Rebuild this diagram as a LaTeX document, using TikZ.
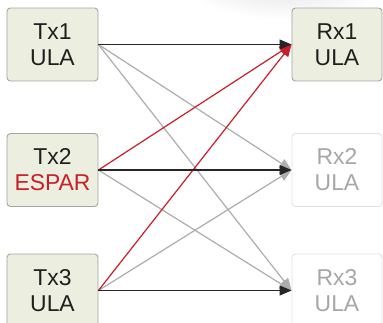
\documentclass[tikz,border=0pt]{standalone}
\usepackage{fontspec}
\setmainfont{Liberation Sans}
\usetikzlibrary{arrows.meta,positioning}
\definecolor{boxfill}{HTML}{ECEEDF}
\definecolor{boxline}{HTML}{A4A4A0}
\definecolor{faintline}{HTML}{E2E2E2}
\definecolor{fainttext}{HTML}{A6A6A6}
\definecolor{linkred}{HTML}{C8202A}
\definecolor{linkgray}{HTML}{ADADAD}
\tikzset{
  antenna/.style={draw=boxline, fill=boxfill, rounded corners=3.5bp, line width=0.9bp,
    minimum width=91bp, minimum height=73bp, inner sep=0pt,
    align=center, font=\fontsize{23}{26}\selectfont, text=black!88},
  idle/.style={antenna, draw=faintline, fill=white, text=fainttext},
  link/.style={line width=1.2bp, -{Triangle[length=12bp,width=10bp]}},
  direct/.style={link, draw=black!85, fill=black!85},
  cross/.style={link, draw=linkgray, fill=linkgray},
  espar/.style={link, draw=linkred, fill=linkred},
}
\begin{document}
\begin{tikzpicture}[x=1bp, y=-1bp]
  \useasboundingbox (0,0) rectangle (383,323);
  \begin{scope}
    \clip (0,0) rectangle (383,323);
    % soft shadow along the top edge
    \shade[inner color=black!14, outer color=white] (285,-28) ellipse [x radius=110, y radius=48];

    \node[antenna] (tx1) at (52.5,44.5) {Tx1\\ULA};
    \node[antenna] (tx2) at (52.5,170) {Tx2\\\textcolor{linkred}{ESPAR}};
    \node[antenna] (tx3) at (52.5,290.5) {Tx3\\ULA};
    \node[antenna, minimum width=90bp] (rx1) at (337,44.5) {Rx1\\ULA};
    \node[idle, minimum width=90bp] (rx2) at (337,170) {Rx2\\ULA};
    \node[idle, minimum width=90bp] (rx3) at (337,290.5) {Rx3\\ULA};

    % cross links
    \draw[cross] (tx1.east) -- (rx2.west);
    \draw[cross] (tx1.east) -- (rx3.west);
    \draw[cross] (tx2.east) -- (rx3.west);
    \draw[cross] (tx3.east) -- (rx2.west);
    % links from the ESPAR side
    \draw[espar] (tx2.east) -- (rx1.west);
    \draw[espar] (tx3.east) -- (rx1.west);
    % direct links
    \draw[direct] (tx1.east) -- (rx1.west);
    \draw[direct] (tx2.east) -- (rx2.west);
    \draw[direct] (tx3.east) -- (rx3.west);
  \end{scope}
\end{tikzpicture}
\end{document}
